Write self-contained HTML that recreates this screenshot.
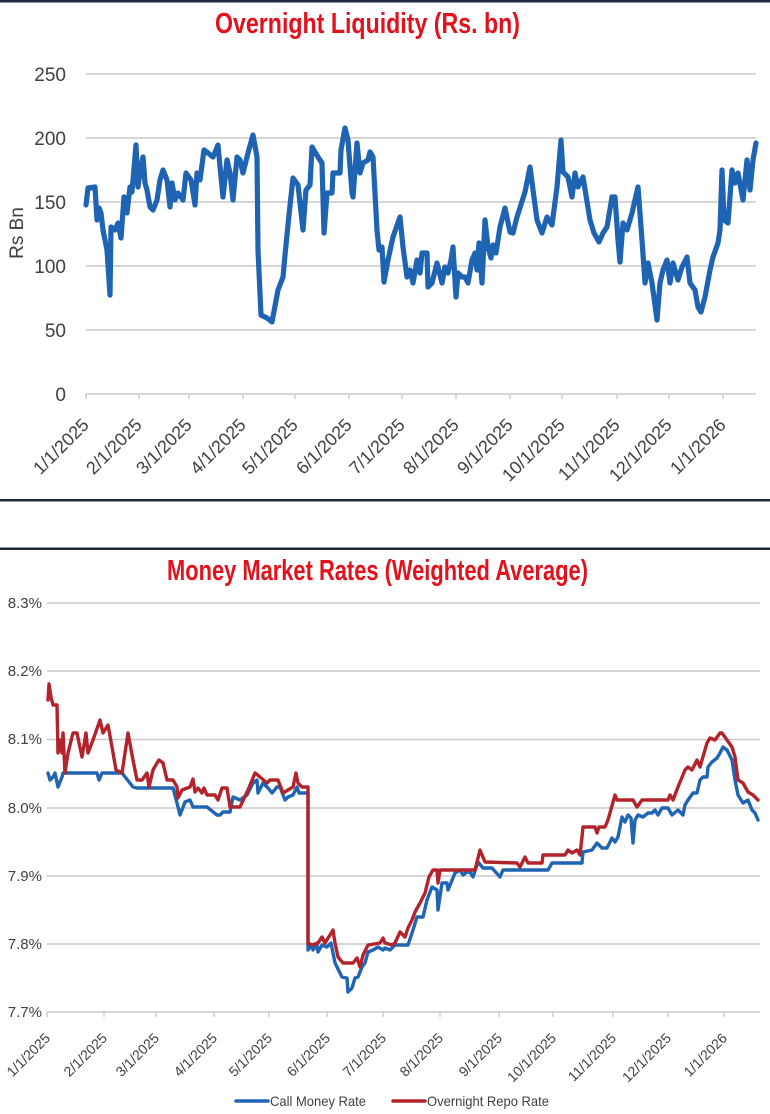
<!DOCTYPE html>
<html>
<head>
<meta charset="utf-8">
<style>
  html, body { margin:0; padding:0; background:#fff; }
  body { width:770px; height:1114px; overflow:hidden; }
  svg { display:block; }
  text { font-family: "Liberation Sans", sans-serif; }
</style>
</head>
<body>
<svg width="770" height="1114" viewBox="0 0 770 1114" xmlns="http://www.w3.org/2000/svg">
  <rect x="0" y="0" width="770" height="1114" fill="#ffffff"/>
  <!-- frame lines -->
  <rect x="0" y="0" width="770" height="2.5" fill="#1c2b3c"/>
  <rect x="0" y="499" width="770" height="2.5" fill="#1c2b3c"/>
  <rect x="0" y="547.5" width="770" height="2.5" fill="#1c2b3c"/>

  <!-- ===== TOP CHART ===== -->
  <text x="215" y="33" font-size="29" font-weight="bold" fill="#e2121c" textLength="305" lengthAdjust="spacingAndGlyphs">Overnight Liquidity (Rs. bn)</text>

  <g stroke="#c9c9c9" stroke-width="1.6">
    <line x1="86" y1="74" x2="756" y2="74"/>
    <line x1="86" y1="138" x2="756" y2="138"/>
    <line x1="86" y1="202" x2="756" y2="202"/>
    <line x1="86" y1="266" x2="756" y2="266"/>
    <line x1="86" y1="330" x2="756" y2="330"/>
    <line x1="86" y1="394" x2="756" y2="394"/>
  </g>
  <g stroke="#c9c9c9" stroke-width="1.4">
    <line x1="86" y1="394" x2="86" y2="399"/>
    <line x1="139" y1="394" x2="139" y2="399"/>
    <line x1="189" y1="394" x2="189" y2="399"/>
    <line x1="243" y1="394" x2="243" y2="399"/>
    <line x1="295" y1="394" x2="295" y2="399"/>
    <line x1="349" y1="394" x2="349" y2="399"/>
    <line x1="402" y1="394" x2="402" y2="399"/>
    <line x1="456" y1="394" x2="456" y2="399"/>
    <line x1="510" y1="394" x2="510" y2="399"/>
    <line x1="562" y1="394" x2="562" y2="399"/>
    <line x1="617" y1="394" x2="617" y2="399"/>
    <line x1="669" y1="394" x2="669" y2="399"/>
    <line x1="723" y1="394" x2="723" y2="399"/>
  </g>

  <g font-size="19" fill="#404040" text-anchor="end">
    <text x="66" y="81">250</text>
    <text x="66" y="145">200</text>
    <text x="66" y="209">150</text>
    <text x="66" y="273">100</text>
    <text x="66" y="337">50</text>
    <text x="66" y="401">0</text>
  </g>
  <text transform="translate(23,233) rotate(-90)" font-size="19" fill="#404040" text-anchor="middle">Rs Bn</text>

  <g font-size="18" fill="#404040" text-anchor="end">
    <text transform="translate(90,426) rotate(-45)">1/1/2025</text>
    <text transform="translate(143,426) rotate(-45)">2/1/2025</text>
    <text transform="translate(193,426) rotate(-45)">3/1/2025</text>
    <text transform="translate(247,426) rotate(-45)">4/1/2025</text>
    <text transform="translate(299,426) rotate(-45)">5/1/2025</text>
    <text transform="translate(353,426) rotate(-45)">6/1/2025</text>
    <text transform="translate(406,426) rotate(-45)">7/1/2025</text>
    <text transform="translate(460,426) rotate(-45)">8/1/2025</text>
    <text transform="translate(514,426) rotate(-45)">9/1/2025</text>
    <text transform="translate(566,426) rotate(-45)">10/1/2025</text>
    <text transform="translate(621,426) rotate(-45)">11/1/2025</text>
    <text transform="translate(673,426) rotate(-45)">12/1/2025</text>
    <text transform="translate(727,426) rotate(-45)">1/1/2026</text>
  </g>

  <polyline fill="none" stroke="#1f63b3" stroke-width="5.2" stroke-linejoin="round" stroke-linecap="round"
    points="86,205 88,188 95,187 97,220 99,208 101,213 103,230 107,250 110,295 111,227 115,230 118,223 121,238 124,197 127,213 130,187 132,192 136,145 138,187 140,173 143,157 145,183 147,190 150,207 153,210 157,200 160,180 163,170 167,180 170,207 172,183 175,200 178,193 183,200 186,173 191,180 195,205 197,173 200,180 204,150 208,153 213,157 218,145 221,177 223,197 227,160 230,173 233,200 237,157 240,160 243,173 248,153 253,135 257,157 258,250 261,315 267,318 272,322 278,290 283,277 285,255 289,215 293,178 298,185 303,230 306,190 310,185 312,147 318,157 322,163 324,233 327,193 332,193 333,173 337,173 340,173 341,150 345,128 348,140 352,193 353,197 357,143 360,173 363,163 368,160 370,152 373,157 377,230 379,250 382,247 384,282 388,260 393,237 400,217 403,247 407,277 410,270 413,283 417,260 420,273 422,253 427,253 428,287 432,283 437,263 442,283 445,267 448,273 451,260 453,247 456,297 458,273 462,277 465,277 468,283 472,260 475,253 477,270 479,243 482,283 485,220 488,247 491,258 493,245 496,253 500,227 505,208 510,232 513,233 517,217 525,192 530,167 537,220 542,233 547,217 552,225 557,187 561,140 563,172 568,177 572,197 575,173 578,187 583,177 590,220 594,233 599,242 603,233 607,227 612,197 615,197 618,240 620,262 623,223 627,230 632,213 638,187 642,240 645,283 648,263 652,283 657,320 660,283 663,270 667,260 670,283 673,263 678,280 682,267 687,257 690,283 695,290 698,307 701,312 705,297 710,270 713,257 718,243 720,230 722,170 724,220 728,223 732,170 735,183 738,173 743,200 747,160 750,190 753,160 756,143"/>

  <!-- ===== BOTTOM CHART ===== -->
  <text x="167" y="580" font-size="29" font-weight="bold" fill="#e2121c" textLength="421" lengthAdjust="spacingAndGlyphs">Money Market Rates (Weighted Average)</text>

  <g stroke="#c9c9c9" stroke-width="1.6">
    <line x1="47" y1="603" x2="760" y2="603"/>
    <line x1="47" y1="671" x2="760" y2="671"/>
    <line x1="47" y1="739.5" x2="760" y2="739.5"/>
    <line x1="47" y1="808" x2="760" y2="808"/>
    <line x1="47" y1="876" x2="760" y2="876"/>
    <line x1="47" y1="944" x2="760" y2="944"/>
    <line x1="47" y1="1012" x2="760" y2="1012"/>
  </g>
  <g stroke="#c9c9c9" stroke-width="1.4">
    <line x1="47" y1="1012" x2="47" y2="1017"/>
    <line x1="104" y1="1012" x2="104" y2="1017"/>
    <line x1="156" y1="1012" x2="156" y2="1017"/>
    <line x1="214" y1="1012" x2="214" y2="1017"/>
    <line x1="269" y1="1012" x2="269" y2="1017"/>
    <line x1="327" y1="1012" x2="327" y2="1017"/>
    <line x1="383" y1="1012" x2="383" y2="1017"/>
    <line x1="440" y1="1012" x2="440" y2="1017"/>
    <line x1="499" y1="1012" x2="499" y2="1017"/>
    <line x1="553" y1="1012" x2="553" y2="1017"/>
    <line x1="613" y1="1012" x2="613" y2="1017"/>
    <line x1="668" y1="1012" x2="668" y2="1017"/>
    <line x1="724" y1="1012" x2="724" y2="1017"/>
  </g>

  <g font-size="15" fill="#404040" text-anchor="end">
    <text x="42" y="608">8.3%</text>
    <text x="42" y="676">8.2%</text>
    <text x="42" y="744">8.1%</text>
    <text x="42" y="813">8.0%</text>
    <text x="42" y="881">7.9%</text>
    <text x="42" y="949">7.8%</text>
    <text x="42" y="1017">7.7%</text>
  </g>

  <g font-size="14" fill="#404040" text-anchor="end">
    <text transform="translate(51,1039) rotate(-45)">1/1/2025</text>
    <text transform="translate(108,1039) rotate(-45)">2/1/2025</text>
    <text transform="translate(160,1039) rotate(-45)">3/1/2025</text>
    <text transform="translate(218,1039) rotate(-45)">4/1/2025</text>
    <text transform="translate(273,1039) rotate(-45)">5/1/2025</text>
    <text transform="translate(331,1039) rotate(-45)">6/1/2025</text>
    <text transform="translate(387,1039) rotate(-45)">7/1/2025</text>
    <text transform="translate(444,1039) rotate(-45)">8/1/2025</text>
    <text transform="translate(503,1039) rotate(-45)">9/1/2025</text>
    <text transform="translate(557,1039) rotate(-45)">10/1/2025</text>
    <text transform="translate(617,1039) rotate(-45)">11/1/2025</text>
    <text transform="translate(672,1039) rotate(-45)">12/1/2025</text>
    <text transform="translate(728,1039) rotate(-45)">1/1/2026</text>
  </g>

  <polyline fill="none" stroke="#2064b4" stroke-width="3.4" stroke-linejoin="round" stroke-linecap="round"
    points="48,773 50,780 53,777 55,773 58,787 62,777 63,773 97,773 99,780 102,773 122,773 133,787 137,788 173,788 177,803 180,815 185,802 190,800 193,807 207,807 217,815 220,815 223,812 230,812 233,797 240,800 247,795 253,783 257,780 258,793 263,783 268,788 272,793 277,787 280,787 285,800 288,797 293,795 297,787 299,793 305,793 308,793 308,950 312,945 313,950 317,945 318,952 322,945 327,947 331,943 335,963 342,977 347,978 348,992 352,988 355,978 358,977 362,967 365,963 368,952 373,950 378,947 383,950 385,948 390,950 395,945 408,945 413,930 417,917 423,917 427,900 432,887 437,890 438,910 442,883 447,883 448,890 455,873 460,870 463,875 467,872 470,872 473,877 478,862 483,868 492,868 500,877 503,870 548,870 552,863 582,863 583,852 592,850 597,843 602,848 607,848 612,838 615,842 618,837 622,817 625,822 628,815 631,818 633,843 635,820 638,815 643,817 648,813 652,813 655,810 658,815 662,808 668,808 672,815 678,810 683,815 685,805 688,800 693,793 697,793 700,780 703,777 707,777 708,767 712,762 717,758 720,753 723,747 727,750 732,760 735,780 738,795 743,803 748,800 752,810 755,813 758,820"/>

  <polyline fill="none" stroke="#b2232b" stroke-width="3.4" stroke-linejoin="round" stroke-linecap="round"
    points="48,700 49,684 51,697 53,705 57,705 58,753 60,740 62,753 63,733 65,773 68,753 73,733 77,733 82,757 86,733 88,753 93,740 100,720 103,733 108,725 112,747 116,770 122,773 128,733 133,760 137,780 142,780 147,773 149,787 153,770 157,763 159,760 163,763 167,780 173,780 177,787 178,798 182,790 190,787 193,779 195,792 198,788 202,793 204,788 207,795 215,795 218,800 222,788 227,788 230,807 240,807 248,790 255,773 260,777 267,783 270,780 278,780 283,793 288,790 293,787 296,773 298,783 302,787 308,787 308,943 312,945 318,943 322,937 325,943 330,935 333,930 335,943 338,957 343,963 353,963 357,958 360,967 363,955 368,945 380,943 383,938 385,943 392,945 395,943 400,932 405,937 408,928 412,920 415,912 420,903 425,893 429,877 433,870 437,870 438,883 440,870 475,870 480,850 485,862 517,863 520,867 525,857 528,863 542,863 543,855 565,855 568,850 572,853 577,850 580,855 582,837 583,827 595,827 597,833 599,827 605,827 608,820 615,795 617,800 633,800 637,807 642,800 668,800 670,795 673,800 678,787 685,770 688,767 692,770 697,760 700,767 707,743 710,738 715,740 720,733 722,733 727,740 732,747 735,757 738,780 743,783 748,792 753,795 758,800"/>

  <!-- legend -->
  <line x1="236" y1="1101" x2="268" y2="1101" stroke="#2064b4" stroke-width="3.5" stroke-linecap="round"/>
  <text x="270" y="1106" font-size="14" fill="#404040" textLength="96" lengthAdjust="spacingAndGlyphs">Call Money Rate</text>
  <line x1="393" y1="1101" x2="425" y2="1101" stroke="#b2232b" stroke-width="3.5" stroke-linecap="round"/>
  <text x="427" y="1106" font-size="14" fill="#404040" textLength="122" lengthAdjust="spacingAndGlyphs">Overnight Repo Rate</text>
</svg>
</body>
</html>
